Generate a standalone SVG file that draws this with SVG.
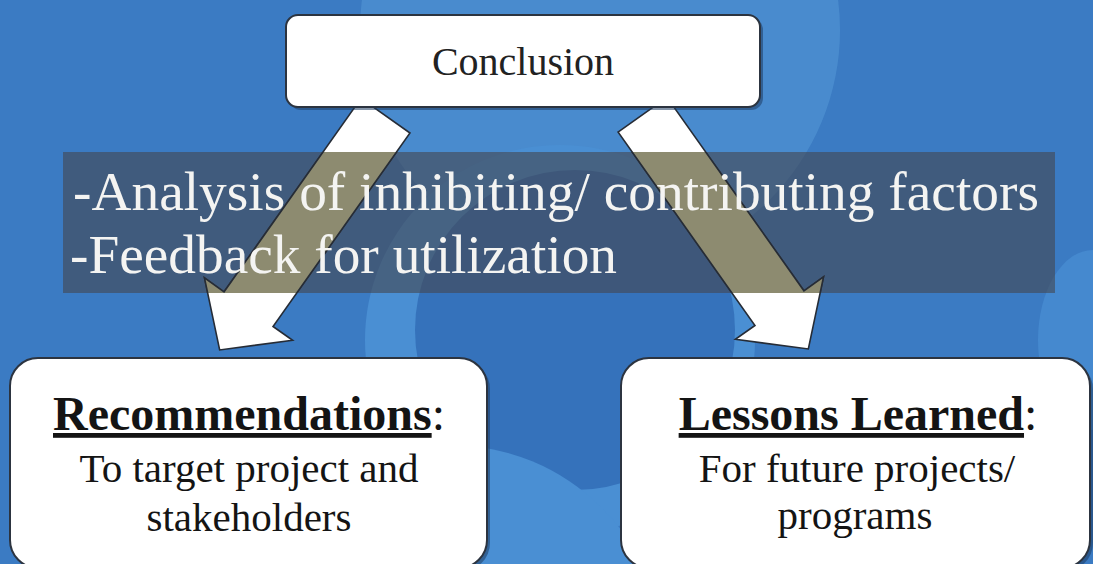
<svg xmlns="http://www.w3.org/2000/svg" xmlns:xlink="http://www.w3.org/1999/xlink" width="1093" height="564" viewBox="0 0 1093 564">
<style>
  .serif { font-family: "Liberation Serif", "Times New Roman", serif; }
  .box { fill: #ffffff; stroke: #2c3440; stroke-width: 2; }
  .shadow { fill: #1d3c63; opacity: 0.55; }
  .dark { fill: #141414; }
  .banner-text { fill: #f4f4f2; font-size: 54px; }
  .arrow { stroke: #262c36; stroke-width: 1.6; stroke-linejoin: miter; }
</style>
<defs>
  <polygon id="arrowShape" points="-30,0 30,0 30,237 54,237 0,287 -54,237 -30,237"/>
  <clipPath id="bannerClip">
    <rect x="63" y="152" width="992" height="141"/>
  </clipPath>
</defs>

<g id="background">
  <rect x="0" y="0" width="1093" height="564" fill="#3b7bc3"/>
  <circle cx="600" cy="30" r="240" fill="#5a9fdc" opacity="0.45"/>
  <circle cx="560" cy="340" r="195" fill="#4a8fd3"/>
  <circle cx="575" cy="330" r="160" fill="#3572bb"/>
  <circle cx="450" cy="660" r="215" fill="#4a8fd3"/>
  <ellipse cx="1093" cy="340" rx="55" ry="90" fill="#4589cf"/>
</g>

<g id="connectors">
  <use id="arrow-left" xlink:href="#arrowShape" class="arrow" fill="#ffffff" transform="translate(385.5,115.7) rotate(35.3)"/>
  <use id="arrow-right" xlink:href="#arrowShape" class="arrow" fill="#ffffff" transform="translate(642.5,114.7) rotate(-35.3)"/>
</g>

<g id="banner">
  <rect x="63" y="152" width="992" height="141" fill="#44464f" opacity="0.6"/>
  <g clip-path="url(#bannerClip)">
    <use xlink:href="#arrowShape" class="arrow" fill="#8d8b70" transform="translate(385.5,115.7) rotate(35.3)"/>
    <use xlink:href="#arrowShape" class="arrow" fill="#8d8b70" transform="translate(642.5,114.7) rotate(-35.3)"/>
  </g>
  <text class="serif banner-text" x="73" y="210" textLength="966" lengthAdjust="spacingAndGlyphs">-Analysis of inhibiting/ contributing factors</text>
  <text class="serif banner-text" x="70" y="273" textLength="547" lengthAdjust="spacingAndGlyphs">-Feedback for utilization</text>
</g>

<g id="conclusion">
  <rect class="shadow" x="289" y="18" width="474" height="92" rx="12"/>
  <rect class="box" x="286" y="15" width="474" height="92" rx="12"/>
  <text class="serif" x="523" y="75" font-size="40" text-anchor="middle" fill="#222222">Conclusion</text>
</g>

<g id="recommendations">
  <rect class="shadow" x="13" y="361" width="477" height="210" rx="28"/>
  <rect class="box" x="10" y="358" width="477" height="210" rx="28"/>
  <text class="serif dark" x="249" y="430" font-size="48" text-anchor="middle"><tspan font-weight="bold" text-decoration="underline">Recommendations</tspan><tspan>:</tspan></text>
  <text class="serif dark" x="249" y="482" font-size="41" text-anchor="middle">To target project and</text>
  <text class="serif dark" x="249" y="531" font-size="41" text-anchor="middle">stakeholders</text>
</g>

<g id="lessons">
  <rect class="shadow" x="624" y="361" width="469" height="210" rx="28"/>
  <rect class="box" x="621" y="358" width="469" height="210" rx="28"/>
  <text class="serif dark" x="858" y="430" font-size="48" text-anchor="middle"><tspan font-weight="bold" text-decoration="underline">Lessons Learned</tspan><tspan>:</tspan></text>
  <text class="serif dark" x="857" y="482" font-size="41" text-anchor="middle">For future projects/</text>
  <text class="serif dark" x="855" y="529" font-size="41" text-anchor="middle">programs</text>
</g>
</svg>
